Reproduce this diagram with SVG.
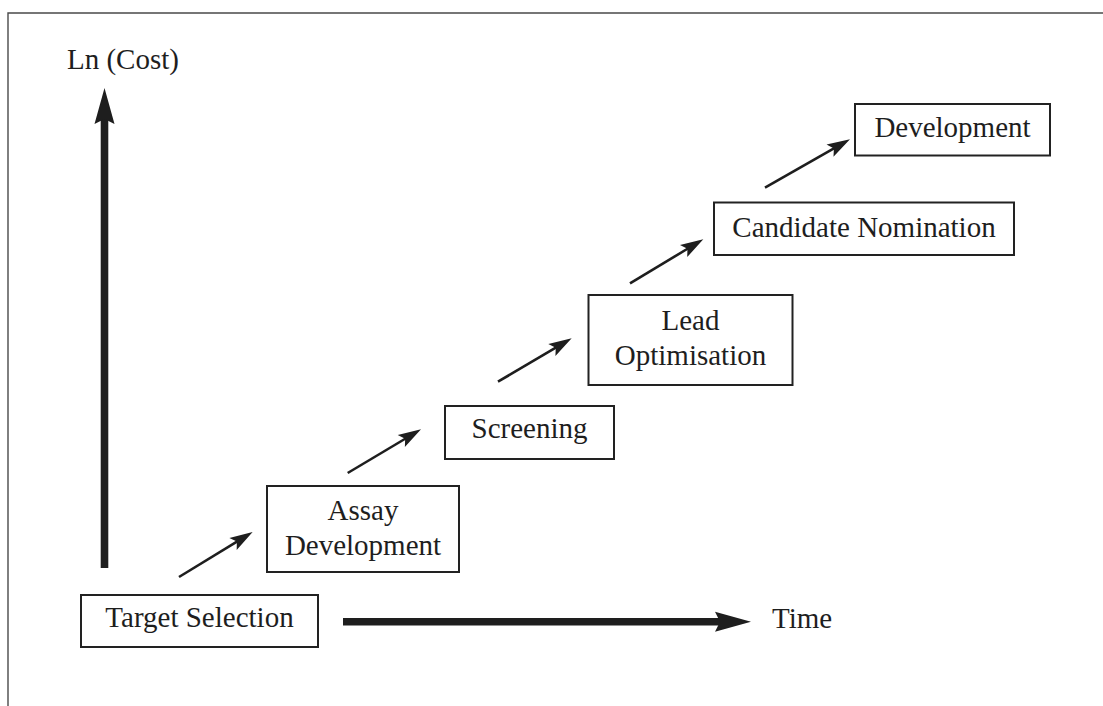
<svg xmlns="http://www.w3.org/2000/svg" width="1103" height="706" viewBox="0 0 1103 706">
  <style>
    .frame { fill: none; stroke: #4a4a4a; stroke-width: 1.4; }
    .box { fill: #ffffff; stroke: #222222; stroke-width: 2; }
    .label { font-family: "Liberation Serif", "Times New Roman", serif; font-size: 29px; fill: #1e1e1e; }
    .mid { text-anchor: middle; }
    .step { stroke: #1e1e1e; stroke-width: 2.6; fill: none; marker-end: url(#head-thin); }
    .axis { stroke: #1e1e1e; stroke-width: 7.6; fill: none; marker-end: url(#head-thick); }
  </style>
  <defs>
    <marker id="head-thin" markerUnits="userSpaceOnUse" orient="auto" refX="0" refY="0"
            viewBox="-10 -8 30 16" markerWidth="30" markerHeight="16" overflow="visible">
      <path d="M16,0 L-7,-7 L-2.5,0 L-7,7 Z" fill="#1e1e1e"/>
    </marker>
    <marker id="head-thick" markerUnits="userSpaceOnUse" orient="auto" refX="0" refY="0"
            viewBox="-10 -12 42 24" markerWidth="42" markerHeight="24" overflow="visible">
      <path d="M30,0 L-6,-10 L-1,0 L-6,10 Z" fill="#1e1e1e"/>
    </marker>
  </defs>

  <rect x="0" y="0" width="1103" height="706" fill="#ffffff"/>

  <!-- outer frame: top and left edges -->
  <path class="frame" d="M8,706 L8,13 L1103,13"/>

  <!-- axis labels -->
  <text class="label" x="67" y="69">Ln (Cost)</text>
  <text class="label" x="772" y="628">Time</text>

  <g id="connectors">
    <!-- axes -->
    <line class="axis" x1="104.5" y1="568" x2="104.5" y2="118"/>
    <line class="axis" x1="343" y1="621.7" x2="721" y2="621.7"/>
    <!-- stage transitions -->
    <line class="step" x1="179" y1="577" x2="239.0" y2="540.3"/>
    <line class="step" x1="347.7" y1="473" x2="407.3" y2="437.5"/>
    <line class="step" x1="498" y1="381.7" x2="557.9" y2="346.4"/>
    <line class="step" x1="630" y1="283.3" x2="689.6" y2="247.5"/>
    <line class="step" x1="765" y1="187.7" x2="836.1" y2="147.2"/>
  </g>

  <g id="target-selection">
    <rect class="box" x="81" y="595" width="237" height="52"/>
    <text class="label mid" x="199.5" y="627">Target Selection</text>
  </g>

  <g id="assay-development">
    <rect class="box" x="267" y="486" width="192" height="86"/>
    <text class="label mid" x="363" y="520">Assay</text>
    <text class="label mid" x="363" y="555">Development</text>
  </g>

  <g id="screening">
    <rect class="box" x="445" y="406" width="169" height="53"/>
    <text class="label mid" x="529.5" y="438">Screening</text>
  </g>

  <g id="lead-optimisation">
    <rect class="box" x="588.5" y="295" width="204" height="90"/>
    <text class="label mid" x="690.5" y="330">Lead</text>
    <text class="label mid" x="690.5" y="365">Optimisation</text>
  </g>

  <g id="candidate-nomination">
    <rect class="box" x="714" y="202.5" width="300" height="52.5"/>
    <text class="label mid" x="864" y="237">Candidate Nomination</text>
  </g>

  <g id="development">
    <rect class="box" x="855" y="104" width="195" height="51.5"/>
    <text class="label mid" x="952.5" y="137">Development</text>
  </g>
</svg>
